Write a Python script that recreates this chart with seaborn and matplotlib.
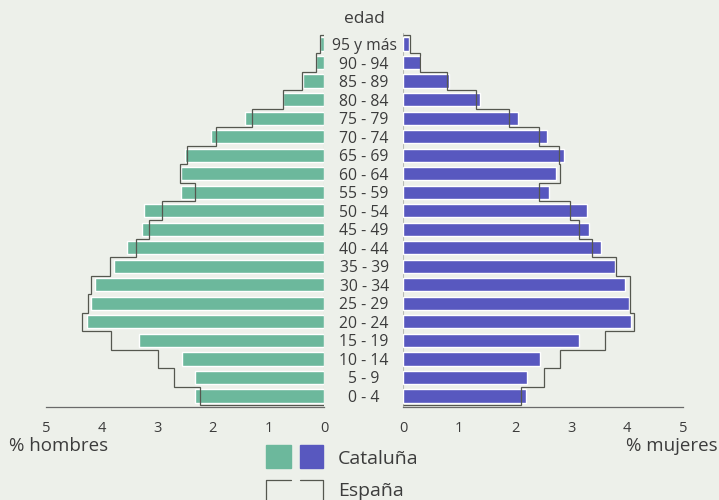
import numpy as np
import seaborn as sns
import matplotlib.pyplot as plt
from matplotlib.patches import Rectangle
from matplotlib.lines import Line2D

# Datos (de arriba a abajo)
edades = ["95 y más", "90 - 94", "85 - 89", "80 - 84", "75 - 79", "70 - 74",
          "65 - 69", "60 - 64", "55 - 59", "50 - 54", "45 - 49", "40 - 44",
          "35 - 39", "30 - 34", "25 - 29", "20 - 24", "15 - 19", "10 - 14",
          "5 - 9", "0 - 4"]
hombres_cat = [0.07, 0.14, 0.37, 0.74, 1.42, 2.04, 2.50, 2.58, 2.58, 3.24,
               3.28, 3.54, 3.77, 4.11, 4.19, 4.26, 3.32, 2.56, 2.32, 2.32]
hombres_esp = [0.07, 0.14, 0.40, 0.73, 1.30, 1.95, 2.46, 2.59, 2.32, 2.92,
               3.15, 3.39, 3.84, 4.19, 4.25, 4.35, 3.83, 2.99, 2.70, 2.23]
mujeres_cat = [0.11, 0.32, 0.83, 1.37, 2.05, 2.57, 2.87, 2.73, 2.61, 3.29,
               3.32, 3.54, 3.79, 3.96, 4.04, 4.08, 3.15, 2.44, 2.21, 2.19]
mujeres_esp = [0.12, 0.30, 0.79, 1.30, 1.89, 2.42, 2.78, 2.80, 2.42, 2.98,
               3.14, 3.38, 3.81, 4.06, 4.05, 4.13, 3.60, 2.80, 2.52, 2.11]
ticks = [0, 1, 2, 3, 4, 5]

# Colores
fondo = '#edf0ea'
verde = '#6cb89c'
azul = '#5858bf'
linea = '#55574f'
texto = '#3c3c3c'

sns.set_style("white")
plt.rcParams['font.family'] = ['Open Sans', 'DejaVu Sans']

fig = plt.figure(figsize=(7.19, 5), dpi=100)
fig.patch.set_facecolor(fondo)

W, H = 719, 500
axL = fig.add_axes([46 / W, 1 - 407 / H, 278 / W, 374 / H])
axR = fig.add_axes([403 / W, 1 - 407 / H, 280 / W, 374 / H])

bordes = np.arange(len(edades) + 1) - 0.5

for ax, cat, esp, col in [(axL, hombres_cat, hombres_esp, verde),
                          (axR, mujeres_cat, mujeres_esp, azul)]:
    sns.barplot(x=cat, y=edades, orient='h', color=col, saturation=1,
                width=0.72, ax=ax)
    ax.stairs(esp, bordes, orientation='horizontal', baseline=0,
              color=linea, linewidth=0.9)
    ax.axvline(0, color='#b8bbb4', linewidth=0.8, zorder=0)
    ax.set_facecolor(fondo)
    ax.set_xlim(0, 5)
    ax.set_ylim(len(edades) - 0.4, -0.6)
    ax.set_xticks(ticks)
    ax.set_xticklabels([str(t) for t in ticks])
    ax.set_xlabel("")
    ax.set_ylabel("")
    for s in ['top', 'right', 'left']:
        ax.spines[s].set_visible(False)
    ax.spines['bottom'].set_color('#6a6a6a')
    ax.spines['bottom'].set_linewidth(0.9)
    ax.tick_params(axis='x', direction='out', length=5, width=0.9,
                   color='#6a6a6a', labelcolor=texto, labelsize=10.5, pad=5)
    ax.tick_params(axis='y', length=0)

axL.set_xlim(5, 0)
axL.set_yticklabels([])

axR.tick_params(axis='y', labelsize=11.3, labelcolor=texto, pad=28)
for lbl in axR.get_yticklabels():
    lbl.set_horizontalalignment('center')

# Textos
fig.text(364 / W, 1 - 19 / H, "edad", ha='center', va='center',
         fontsize=12.5, color=texto)
fig.text(9 / W, 1 - 446 / H, "% hombres", ha='left', va='center',
         fontsize=13.5, color=texto)
fig.text(718 / W, 1 - 446 / H, "% mujeres", ha='right', va='center',
         fontsize=13.5, color=texto)

# Leyenda
fig.patches.append(Rectangle((266 / W, 1 - 468 / H), 25 / W, 23 / H,
                             transform=fig.transFigure, color=verde))
fig.patches.append(Rectangle((300 / W, 1 - 468 / H), 23 / W, 23 / H,
                             transform=fig.transFigure, color=azul))
fig.text(338 / W, 1 - 459 / H, "Cataluña", ha='left', va='center',
         fontsize=14, color=texto)
y0, y1 = 1 - 480 / H, 1 - 503 / H
fig.lines.append(Line2D([291 / W, 266 / W, 266 / W, 291 / W], [y0, y0, y1, y1],
                        transform=fig.transFigure, color=linea, linewidth=0.9))
fig.lines.append(Line2D([300 / W, 323 / W, 323 / W, 300 / W], [y0, y0, y1, y1],
                        transform=fig.transFigure, color=linea, linewidth=0.9))
fig.text(338 / W, 1 - 491 / H, "España", ha='left', va='center',
         fontsize=14, color=texto)

plt.savefig("out.png", dpi=100, facecolor=fondo)
plt.close()
